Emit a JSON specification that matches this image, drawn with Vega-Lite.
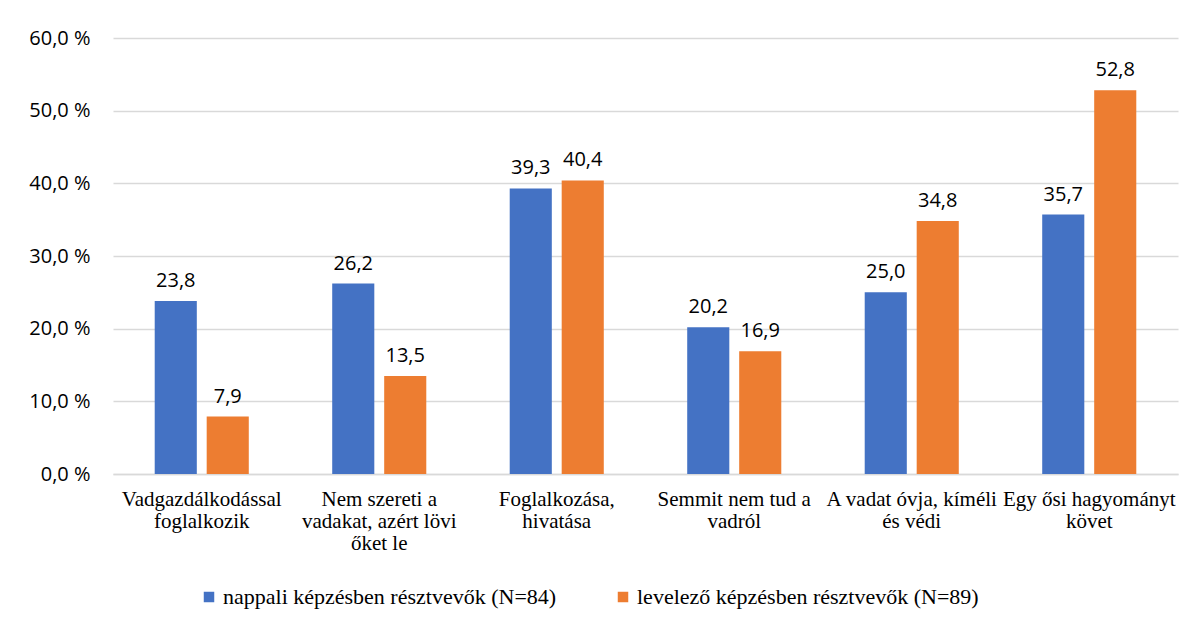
{
  "$schema": "https://vega.github.io/schema/vega-lite/v6.json",
  "width": 1065,
  "height": 436,
  "autosize": {"type": "none"},
  "padding": {"left": 113, "top": 38, "right": 25, "bottom": 151},
  "background": "white",
  "config": {
    "locale": {"number": {"decimal": ",", "thousands": " ", "grouping": [3], "currency": ["", " Ft"]}},
    "view": {"stroke": null},
    "axis": {"grid": false},
    "axisY": {"labelFont": "Open Sans", "labelFontSize": 20},
    "axisX": {"labelFont": "Liberation Serif", "labelFontSize": 21},
    "text": {"font": "Open Sans", "fontSize": 20},
    "legend": {"labelFont": "Liberation Serif", "labelFontSize": 22, "labelColor": "#000000"}
  },
  "data": {
    "values": [
      {"kategoria": "Vadgazdálkodással foglalkozik", "csoport": "nappali képzésben résztvevők (N=84)", "ertek": 23.8},
      {"kategoria": "Vadgazdálkodással foglalkozik", "csoport": "levelező képzésben résztvevők (N=89)", "ertek": 7.9},
      {"kategoria": "Nem szereti a vadakat, azért lövi őket le", "csoport": "nappali képzésben résztvevők (N=84)", "ertek": 26.2},
      {"kategoria": "Nem szereti a vadakat, azért lövi őket le", "csoport": "levelező képzésben résztvevők (N=89)", "ertek": 13.5},
      {"kategoria": "Foglalkozása, hivatása", "csoport": "nappali képzésben résztvevők (N=84)", "ertek": 39.3},
      {"kategoria": "Foglalkozása, hivatása", "csoport": "levelező képzésben résztvevők (N=89)", "ertek": 40.4},
      {"kategoria": "Semmit nem tud a vadról", "csoport": "nappali képzésben résztvevők (N=84)", "ertek": 20.2},
      {"kategoria": "Semmit nem tud a vadról", "csoport": "levelező képzésben résztvevők (N=89)", "ertek": 16.9},
      {"kategoria": "A vadat óvja, kíméli és védi", "csoport": "nappali képzésben résztvevők (N=84)", "ertek": 25.0},
      {"kategoria": "A vadat óvja, kíméli és védi", "csoport": "levelező képzésben résztvevők (N=89)", "ertek": 34.8},
      {"kategoria": "Egy ősi hagyományt követ", "csoport": "nappali képzésben résztvevők (N=84)", "ertek": 35.7},
      {"kategoria": "Egy ősi hagyományt követ", "csoport": "levelező képzésben résztvevők (N=89)", "ertek": 52.8}
    ]
  },
  "encoding": {
    "x": {
      "field": "kategoria",
      "type": "nominal",
      "sort": null,
      "title": null,
      "scale": {"paddingInner": 0.47, "paddingOuter": 0.235},
      "axis": {
        "labelAngle": 0,
        "ticks": false,
        "domainColor": "#d9d9d9",
        "domainWidth": 1.5,
        "labelColor": "#000000",
        "labelPadding": 14,
        "labelLineHeight": 22,
        "labelBaseline": "top",
        "labelLimit": 300,
        "labelExpr": "datum.value == 'Vadgazdálkodással foglalkozik' ? ['Vadgazdálkodással', 'foglalkozik'] : datum.value == 'Nem szereti a vadakat, azért lövi őket le' ? ['Nem szereti a', 'vadakat, azért lövi', 'őket le'] : datum.value == 'Foglalkozása, hivatása' ? ['Foglalkozása,', 'hivatása'] : datum.value == 'Semmit nem tud a vadról' ? ['Semmit nem tud a', 'vadról'] : datum.value == 'A vadat óvja, kíméli és védi' ? ['A vadat óvja, kíméli', 'és védi'] : ['Egy ősi hagyományt', 'követ']"
      }
    },
    "xOffset": {
      "field": "csoport",
      "type": "nominal",
      "sort": ["nappali képzésben résztvevők (N=84)", "levelező képzésben résztvevők (N=89)"],
      "scale": {"paddingInner": 0.19, "paddingOuter": 0}
    },
    "y": {
      "field": "ertek",
      "type": "quantitative",
      "title": null,
      "scale": {"domain": [0, 60], "nice": false},
      "axis": {
        "values": [0, 10, 20, 30, 40, 50, 60],
        "format": ".1f",
        "labelExpr": "datum.label + ' %'",
        "grid": true,
        "gridColor": "#d9d9d9",
        "gridWidth": 1.5,
        "domain": false,
        "ticks": false,
        "labelColor": "#000000",
        "labelPadding": 23
      }
    }
  },
  "layer": [
    {
      "mark": {"type": "bar"},
      "encoding": {
        "color": {
          "field": "csoport",
          "type": "nominal",
          "sort": ["nappali képzésben résztvevők (N=84)", "levelező képzésben résztvevők (N=89)"],
          "scale": {"domain": ["nappali képzésben résztvevők (N=84)", "levelező képzésben résztvevők (N=89)"], "range": ["#4472C4", "#ED7D31"]},
          "legend": {
            "title": null,
            "orient": "none",
            "direction": "horizontal",
            "legendX": 85,
            "legendY": 548,
            "symbolType": "square",
            "symbolSize": 110,
            "symbolStrokeWidth": 0,
            "labelFont": "Liberation Serif",
            "labelOffset": 3,
            "labelLimit": 500,
            "columnPadding": 55
          }
        }
      }
    },
    {
      "mark": {"type": "text", "baseline": "alphabetic", "dy": -14, "color": "#000000"},
      "encoding": {
        "text": {"field": "ertek", "type": "quantitative", "format": ".1f"}
      }
    }
  ]
}
